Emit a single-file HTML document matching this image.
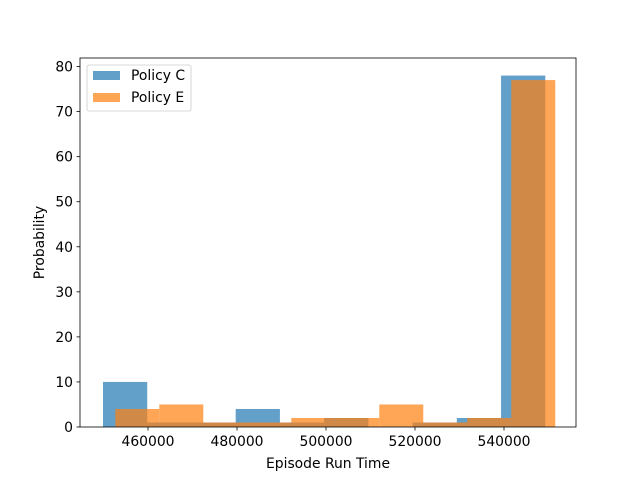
<!DOCTYPE html>
<html><head><meta charset="utf-8"><style>
body{margin:0;background:#fff;}
svg text{font-family:"DejaVu Sans","Liberation Sans",sans-serif;}
</style></head><body>
<svg id="chart" width="640" height="480" xmlns="http://www.w3.org/2000/svg">
<rect width="640" height="480" fill="#fff"/>
<g id="bars"></g>
<g id="axes"></g>
</svg>
<script>
const seriesNames = ["Policy C", "Policy E"];
const countsC = [10, 1, 1, 4, 1, 2, 0, 1, 2, 78];
const countsE = [4, 5, 1, 1, 2, 2, 5, 1, 2, 77];
const rangeC = [449888, 549276];
const rangeE = [452652, 551520];
const xTicks = [460000, 480000, 500000, 520000, 540000];
const yTicks = [0, 10, 20, 30, 40, 50, 60, 70, 80];

const L=80,R=576,T=58,B=427;
const FS=13.9;
const xs=v=>148+(v-460000)*356/80000;
const ys=v=>B-v*(B-T)/81.9;
const NS="http://www.w3.org/2000/svg";
function mk(tag,attrs,parent){const e=document.createElementNS(NS,tag);for(const k in attrs)e.setAttribute(k,attrs[k]);parent.appendChild(e);return e;}
const bars=document.getElementById('bars'), axes=document.getElementById('axes');
function drawHist(counts,range,color,key){
  const w=(range[1]-range[0])/counts.length;
  counts.forEach((c,i)=>{
    if(c<=0)return;
    const x0=xs(range[0]+i*w),x1=xs(range[0]+(i+1)*w);
    const r=mk('rect',{x:x0,y:ys(c),width:x1-x0,height:B-ys(c),fill:color,'fill-opacity':0.7},bars);
    
    
  });
}
drawHist(countsC,rangeC,'#1f77b4','policy-c');
drawHist(countsE,rangeE,'#ff7f0e','policy-e');
const frame=mk('rect',{x:L,y:T,width:R-L,height:B-T,fill:'none',stroke:'#000','stroke-width':0.8},axes);


xTicks.forEach(v=>{
  const x=xs(v);
  mk('line',{x1:x,x2:x,y1:B,y2:B+3.5,stroke:'#000','stroke-width':0.8},axes);
  const t=mk('text',{x:x,y:B+19,'text-anchor':'middle','font-size':FS},axes);
  t.textContent=v;
  
  
});
yTicks.forEach(v=>{
  const y=ys(v);
  mk('line',{x1:L,x2:L-3.5,y1:y,y2:y,stroke:'#000','stroke-width':0.8},axes);
  const t=mk('text',{x:L-7,y:y+5,'text-anchor':'end','font-size':FS},axes);
  t.textContent=v;
  
  
});
const xt=mk('text',{x:(L+R)/2,y:468,'text-anchor':'middle','font-size':FS},axes);
xt.textContent='Episode Run Time';


const yt=mk('text',{x:44,y:(T+B)/2,'text-anchor':'middle','font-size':FS,transform:'rotate(-90 44 '+((T+B)/2)+')'},axes);
yt.textContent='Probability';


const lg=mk('g',{},axes);


mk('rect',{x:87,y:65,width:104,height:46,rx:2,fill:'#fff','fill-opacity':0.8,stroke:'#ccc','stroke-width':0.8},lg);
const cols=['#1f77b4','#ff7f0e'];
seriesNames.forEach((n,i)=>{
  const g=mk('g',{},lg);
  
  
  mk('rect',{x:93,y:71+i*22,width:27,height:9,fill:cols[i],'fill-opacity':0.7},g);
  const t=mk('text',{x:131,y:80+i*22,'font-size':FS},g);
  t.textContent=n;
});
</script>
</body></html>
